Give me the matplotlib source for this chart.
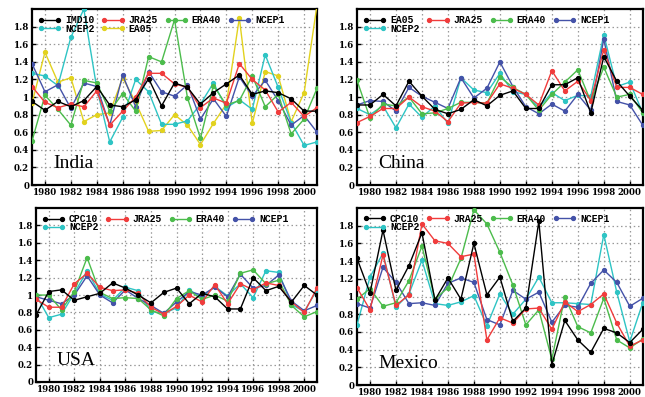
import matplotlib
matplotlib.use("Agg")
import matplotlib.pyplot as plt
from matplotlib.ticker import FixedLocator

years = list(range(1979, 2002))

# India
india_imd10 = [0.95, 0.85, 0.95, 0.89, 0.96, 1.12, 0.91, 0.89, 0.97, 1.21, 0.90, 1.16, 1.11, 0.92, 1.05, 1.15, 1.25, 1.03, 1.07, 1.05, 0.98, 0.84, 0.84]
india_jra25 = [1.12, 0.94, 0.88, 0.92, 0.89, 1.07, 0.68, 0.84, 1.00, 1.27, 1.27, 1.15, 1.11, 0.88, 0.99, 0.93, 1.38, 1.20, 1.08, 0.83, 0.94, 0.78, 0.88]
india_era40 = [0.50, 1.02, 0.86, 0.68, 1.19, 1.16, 0.84, 1.04, 0.84, 1.46, 1.40, 1.88, 0.99, 0.53, 1.13, 0.91, 0.96, 1.24, 0.89, 1.03, 0.58, 0.75, 1.10]
india_ncep1 = [1.38, 1.06, 1.14, 0.87, 1.16, 1.12, 0.68, 1.25, 0.89, 1.29, 1.06, 1.01, 1.14, 0.75, 0.98, 0.78, 1.23, 1.01, 1.19, 0.96, 0.68, 0.79, 0.60]
india_ncep2 = [1.27, 1.24, 1.13, 1.68, 2.00, 1.10, 0.49, 0.77, 1.20, 1.06, 0.69, 0.69, 0.73, 0.92, 1.16, 0.88, 0.97, 0.86, 1.48, 1.11, 0.71, 0.45, 0.49]
india_ea05 = [0.93, 1.51, 1.17, 1.22, 0.72, 0.80, 0.82, 1.22, 0.94, 0.61, 0.62, 0.80, 0.68, 0.46, 0.70, 0.92, 1.90, 0.70, 1.29, 1.24, 0.72, 1.05, 2.05]

# China
china_ea05 = [0.91, 0.91, 1.03, 0.90, 1.18, 1.01, 0.86, 0.81, 0.86, 0.97, 0.90, 1.02, 1.07, 0.87, 0.87, 1.14, 1.14, 1.22, 0.82, 1.46, 1.18, 1.01, 0.85]
china_jra25 = [0.71, 0.78, 0.87, 0.87, 1.00, 0.89, 0.84, 0.72, 0.93, 0.94, 0.93, 1.15, 1.10, 1.03, 0.91, 1.30, 1.07, 1.18, 0.96, 1.54, 1.11, 1.11, 1.03]
china_era40 = [1.19, 0.76, 0.92, 0.90, 1.00, 0.81, 0.82, 0.87, 0.94, 0.94, 0.93, 1.23, 1.11, 1.03, 0.85, 1.03, 1.17, 1.31, 0.95, 1.34, 1.00, 1.03, 0.82]
china_ncep1 = [0.91, 0.96, 0.95, 0.84, 1.11, 1.01, 0.94, 0.87, 1.22, 0.99, 1.10, 1.40, 1.12, 0.89, 0.81, 0.92, 0.84, 1.03, 0.85, 1.66, 0.95, 0.91, 0.68]
china_ncep2 = [0.87, 0.80, 0.90, 0.65, 0.92, 0.77, 0.90, 0.70, 1.22, 1.08, 1.05, 1.27, 1.06, 1.03, 0.88, 1.05, 0.96, 1.02, 1.01, 1.71, 1.12, 1.17, 0.82]

# USA
usa_cpc10 = [0.77, 1.04, 1.06, 0.94, 0.98, 1.02, 1.14, 1.08, 1.00, 0.91, 1.03, 1.08, 0.90, 1.02, 0.98, 0.84, 0.84, 1.20, 1.05, 1.10, 0.92, 1.11, 1.00]
usa_jra25 = [0.95, 0.86, 0.86, 1.13, 1.25, 1.09, 1.05, 1.06, 1.02, 0.86, 0.78, 0.87, 1.00, 0.92, 1.12, 0.90, 1.13, 1.06, 1.14, 1.11, 0.92, 0.80, 1.08]
usa_era40 = [1.00, 1.00, 0.83, 1.04, 1.43, 1.03, 0.96, 0.97, 0.96, 0.83, 0.76, 0.96, 1.05, 0.95, 1.00, 0.93, 1.25, 1.29, 1.13, 1.17, 0.88, 0.75, 0.81]
usa_ncep1 = [0.98, 0.94, 0.90, 1.00, 1.22, 1.00, 0.91, 1.06, 0.96, 0.88, 0.79, 0.92, 1.04, 1.00, 1.09, 0.98, 1.24, 1.08, 1.11, 1.23, 0.93, 0.82, 0.88]
usa_ncep2 = [1.00, 0.74, 0.78, 1.02, 1.28, 1.01, 0.94, 1.09, 1.05, 0.81, 0.79, 0.85, 1.06, 0.97, 1.10, 0.99, 1.13, 0.97, 1.28, 1.26, 0.89, 0.81, 1.06]

# Mexico
mex_cpc10 = [1.43, 1.04, 1.75, 1.07, 1.35, 1.72, 0.96, 1.21, 0.97, 1.60, 1.02, 1.22, 0.72, 0.87, 1.85, 0.23, 0.73, 0.51, 0.37, 0.64, 0.59, 0.48, 0.63]
mex_jra25 = [1.10, 0.85, 1.47, 0.90, 1.02, 1.82, 1.63, 1.60, 1.45, 1.48, 0.51, 0.76, 0.70, 0.86, 0.87, 0.63, 0.94, 0.83, 0.91, 1.03, 0.70, 0.44, 0.51]
mex_era40 = [0.97, 1.09, 0.89, 0.93, 1.18, 1.57, 0.97, 1.10, 1.43, 1.98, 1.82, 1.50, 1.13, 0.68, 0.85, 0.29, 1.00, 0.66, 0.59, 0.98, 0.51, 0.42, 0.52]
mex_ncep1 = [0.92, 0.87, 1.33, 1.16, 0.92, 0.93, 0.90, 1.15, 1.21, 1.16, 0.74, 0.68, 1.07, 0.97, 1.05, 0.71, 0.90, 0.88, 1.15, 1.30, 1.16, 0.89, 0.98]
mex_ncep2 = [0.68, 1.22, 1.49, 0.88, 1.03, 1.41, 0.92, 0.90, 0.94, 1.01, 0.67, 1.03, 0.80, 0.97, 1.22, 0.93, 0.93, 0.92, 0.91, 1.70, 1.05, 0.49, 0.93]

xticks = list(range(1980, 2001, 2))
yticks = [0, 0.2, 0.4, 0.6, 0.8, 1, 1.2, 1.4, 1.6, 1.8]
ytick_labels = ["0", "0.2", "0.4", "0.6", "0.8", "1", "1.2", "1.4", "1.6", "1.8"]

C = {"black": "#000000", "red": "#f03c3c", "green": "#4cbc4c",
     "blue": "#4452a8", "cyan": "#2ec4c4", "yellow": "#e2d21e"}

panels = [
    ("India", [0.0496, 0.534, 0.442, 0.443],
     [("IMD10", india_imd10, "black"), ("JRA25", india_jra25, "red"),
      ("ERA40", india_era40, "green"), ("NCEP1", india_ncep1, "blue"),
      ("NCEP2", india_ncep2, "cyan"), ("EA05", india_ea05, "yellow")]),
    ("China", [0.5535, 0.534, 0.443, 0.443],
     [("EA05", china_ea05, "black"), ("JRA25", china_jra25, "red"),
      ("ERA40", china_era40, "green"), ("NCEP1", china_ncep1, "blue"),
      ("NCEP2", china_ncep2, "cyan")]),
    ("USA", [0.0558, 0.0378, 0.4357, 0.438],
     [("CPC10", usa_cpc10, "black"), ("JRA25", usa_jra25, "red"),
      ("ERA40", usa_era40, "green"), ("NCEP1", usa_ncep1, "blue"),
      ("NCEP2", usa_ncep2, "cyan")]),
    ("Mexico", [0.5535, 0.030, 0.443, 0.446],
     [("CPC10", mex_cpc10, "black"), ("JRA25", mex_jra25, "red"),
      ("ERA40", mex_era40, "green"), ("NCEP1", mex_ncep1, "blue"),
      ("NCEP2", mex_ncep2, "cyan")]),
]

fig = plt.figure(figsize=(6.45, 3.97), dpi=100)

for name, rect, series in panels:
    ax = fig.add_axes(rect)
    handles = {}
    for i, (lab, vals, col) in enumerate(series):
        h, = ax.plot(years, vals, color=C[col], lw=1.0, marker="o", ms=2.8,
                     mec=C[col], mfc=C[col], zorder=10 - i if col != "black" else 11)
        handles[lab] = h
    ax.set_xlim(1979, 2001)
    ax.set_ylim(0, 2.0)
    ax.xaxis.set_major_locator(FixedLocator(xticks))
    ax.set_yticks(yticks)
    ax.set_yticklabels(ytick_labels)
    ax.grid(True, color="#999999", linestyle=(0, (1.2, 2.2)), linewidth=0.9)
    for s in ax.spines.values():
        s.set_linewidth(1.6)
    ax.tick_params(direction="in", length=3, width=1, pad=2)
    for t in ax.get_xticklabels() + ax.get_yticklabels():
        t.set_fontfamily("DejaVu Serif")
        t.set_fontweight("bold")
        t.set_fontsize(6.2)
    labs = [s[0] for s in series]
    if len(labs) == 6:
        order = [labs[0], labs[4], labs[1], labs[5], labs[2], labs[3]]
    else:
        order = [labs[0], labs[4], labs[1], labs[2], labs[3]]
    leg = ax.legend([handles[l] for l in order], order, loc="upper left",
                    ncol=4, frameon=False, numpoints=2, handlelength=2.4,
                    handletextpad=0.4, columnspacing=0.7, labelspacing=-0.15,
                    borderaxespad=0.3, borderpad=0.3,
                    prop={"family": "Liberation Mono", "weight": "bold", "size": 7})
    leg.set_zorder(20)
    ax.text(0.075, 0.095, name, transform=ax.transAxes, ha="left", va="baseline",
            fontsize=14, fontfamily="Liberation Serif", zorder=20)

fig.savefig("out.png", dpi=100)
